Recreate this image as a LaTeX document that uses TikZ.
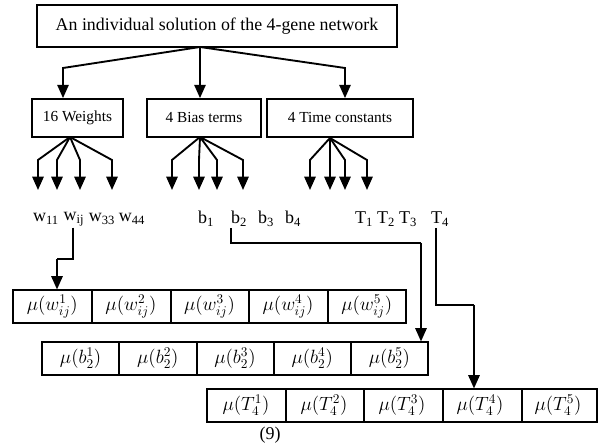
\documentclass[tikz,border=0pt]{standalone}
\usepackage{fontspec}
\setmainfont{Liberation Serif}
\usetikzlibrary{arrows.meta,calc}
\begin{document}
\begin{tikzpicture}[x=0.75pt,y=-0.75pt,
  bigbox/.style={draw,line width=1.3pt,inner sep=0pt,font=\fontsize{11.5}{13}\selectfont},
  rowbox/.style={draw,line width=0.8pt,inner sep=0pt,minimum height=24.75pt},
  div/.style={line width=0.8pt},
  cell/.style={inner sep=1pt,font=\fontsize{14}{16}\selectfont},
  lbl/.style={inner sep=1pt,font=\fontsize{13.5}{15}\selectfont},
  arr/.style={-{Triangle[length=10pt,width=8.5pt]},line width=1.4pt},
  ln/.style={line width=1.4pt}]
\useasboundingbox (0,0) rectangle (601,445);
% top
\node[bigbox,minimum width=270pt,minimum height=31.5pt,font=\fontsize{13.4}{15}\selectfont] (top) at (217,26) {An individual solution of the 4-gene network};
\node[bigbox,minimum width=68.25pt,minimum height=28.5pt] (wb) at (77.5,118) {16 Weights};
\node[bigbox,minimum width=85.5pt,minimum height=28.5pt] (bb) at (204,118) {4 Bias terms};
\node[bigbox,minimum width=109.5pt,minimum height=28.5pt] (tb) at (340,118) {4 Time constants};
\coordinate (ts) at (200,47);
\draw[arr] (ts) -- (63,68) -- (63,68 |- wb.north);
\draw[arr] (ts) -- (ts |- bb.north);
\draw[arr] (ts) -- (345,68) -- (345,68 |- tb.north);
% fans
\coordinate (wf) at (70,137);
\coordinate (bf) at (200,137);
\coordinate (tf) at (330,138);
\foreach \x in {38,57,80,112} \draw[arr] (wf) -- (\x,160) -- (\x,190);
\foreach \x in {172,199,217,243} \draw[arr] (bf) -- (\x,160) -- (\x,190);
\foreach \x in {310,330,345,367} \draw[arr] (tf) -- (\x,160) -- (\x,190);
% labels
\node[lbl] (w11) at (46,219) {w\textsubscript{11}};
\node[lbl] (wij) at (74,219) {w\textsubscript{ij}};
\node[lbl] (w33) at (102,219) {w\textsubscript{33}};
\node[lbl] (w44) at (132,219) {w\textsubscript{44}};
\node[lbl] (b1) at (206,219) {b\textsubscript{1}};
\node[lbl] (b2) at (239,219) {b\textsubscript{2}};
\node[lbl] (b3) at (266,219) {b\textsubscript{3}};
\node[lbl] (b4) at (293,219) {b\textsubscript{4}};
\node[lbl] (T1) at (364,219) {T\textsubscript{1}};
\node[lbl] (T2) at (386,219) {T\textsubscript{2}};
\node[lbl] (T3) at (408,219) {T\textsubscript{3}};
\node[lbl] (T4) at (440,219) {T\textsubscript{4}};
% rows of cells
\node[rowbox,minimum width=294.75pt] (r1) at (209.5,306.5) {};
\node[rowbox,minimum width=289.5pt] (r2) at (235,358.5) {};
\node[rowbox,minimum width=292.5pt] (r3) at (402,405.5) {};
\foreach \x in {92,171,249,328} \draw[div] (\x,0 |- r1.north) -- (\x,0 |- r1.south);
\foreach \x in {119,197,274,351} \draw[div] (\x,0 |- r2.north) -- (\x,0 |- r2.south);
\foreach \x in {286,364,443,522} \draw[div] (\x,0 |- r3.north) -- (\x,0 |- r3.south);
\foreach \i/\x in {1/52.3,2/130.9,3/209.5,4/288.1,5/366.7}
  \node[cell] (w\i) at (\x,306.5) {$\mu(w_{ij}^{\i})$};
\foreach \i/\x in {1/80.6,2/157.8,3/235,4/312.2,5/389.4}
  \node[cell] (c\i) at (\x,358.5) {$\mu(b_{2}^{\i})$};
\foreach \i/\x in {1/246,2/324,3/402,4/480,5/558}
  \node[cell] (t\i) at (\x,405.5) {$\mu(T_{4}^{\i})$};
\node[font=\fontsize{13.5}{15}\selectfont,inner sep=0pt] (eq) at (270,435) {(9)};
% connectors
\coordinate (k1) at (57,259);
\coordinate (k2) at (421,243);
\coordinate (k3) at (474,305);
\draw[ln] ($(wij.south)+(-1,0)$) |- (k1);
\draw[arr] (k1) -- (k1 |- r1.north);
\draw[ln] ($(b2.south)+(-8,0)$) |- (k2);
\draw[arr] (k2) -- (k2 |- r2.north);
\draw[ln] ($(T4.south)+(-4,0)$) |- (k3);
\draw[arr] (k3) -- (k3 |- r3.north);
\end{tikzpicture}
\end{document}
